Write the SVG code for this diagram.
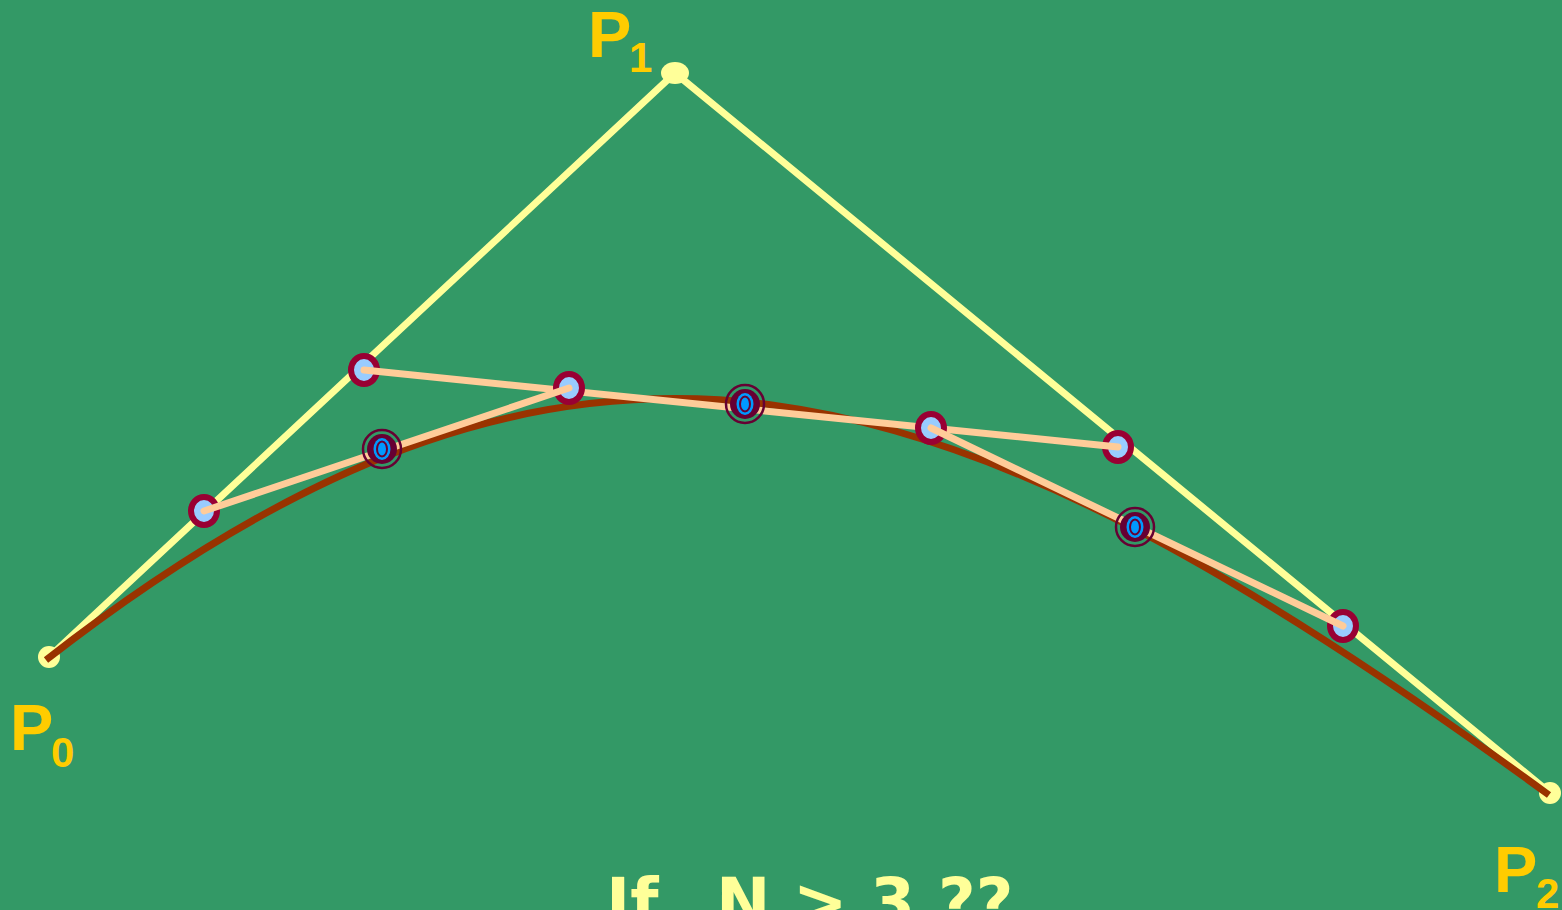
<svg xmlns="http://www.w3.org/2000/svg" width="1562" height="910" viewBox="0 0 1562 910">
  <style>
    .ctrl { stroke: #FFFF99; stroke-width: 7; fill: none; stroke-linecap: round; }
    .mid { stroke: #FFCC99; stroke-width: 7; fill: none; stroke-linecap: round; }
    .curve { stroke: #993300; stroke-width: 7; fill: none; }
    .pt { fill: #99CCFF; stroke: #990033; stroke-width: 6; }
    .end { fill: #FFFF99; }
    .lbl { font-family: "Liberation Sans", Arial, sans-serif; font-weight: bold; fill: #FFCC00; }
    .big { font-size: 65px; }
    .sub { font-size: 42px; }
    .title { font-family: "DejaVu Sans", Verdana, sans-serif; font-weight: bold; font-size: 65px; fill: #FFFF99; white-space: pre; }
  </style>
  <defs>
    <g id="onCurve">
      <circle r="19" fill="none" stroke="#660033" stroke-width="2.5"/>
      <circle r="15" fill="#660033"/>
      <ellipse rx="8.5" ry="11" fill="#0099FF"/>
      <ellipse rx="5" ry="7.5" fill="#0099FF" stroke="#660033" stroke-width="2"/>
    </g>
  </defs>
  <rect width="1562" height="910" fill="#339966"/>

  <g id="connectors">
    <polyline class="ctrl" points="48,658 675,73 1550,793"/>
  </g>

  <g id="endpoints">
    <circle id="p0-dot" class="end" cx="49" cy="657" r="11"/>
    <ellipse id="p1-dot" class="end" cx="675" cy="73" rx="14" ry="11"/>
    <circle id="p2-dot" class="end" cx="1550" cy="793" r="11"/>
  </g>

  <g id="curve-group">
    <path class="curve" d="M46,660 C586,239 949,357 1549,795"/>
  </g>

  <g id="level1-outer">
    <ellipse class="pt" cx="364" cy="370" rx="13" ry="14"/>
    <ellipse class="pt" cx="1118" cy="447" rx="13" ry="14"/>
    <ellipse class="pt" cx="204" cy="511" rx="13" ry="14"/>
    <ellipse class="pt" cx="1343" cy="626" rx="13" ry="14"/>
  </g>

  <g id="midline">
    <line class="mid" x1="364" y1="370" x2="1118" y2="447"/>
  </g>

  <g id="level2">
    <ellipse class="pt" cx="569" cy="388" rx="13" ry="14"/>
    <ellipse class="pt" cx="931" cy="428" rx="13" ry="14"/>
  </g>

  <g id="sublines">
    <line class="mid" x1="204" y1="511" x2="569" y2="388"/>
    <line class="mid" x1="931" y1="428" x2="1343" y2="626"/>
  </g>

  <g id="curve-points">
    <use href="#onCurve" x="382" y="449"/>
    <use href="#onCurve" x="745" y="404"/>
    <use href="#onCurve" x="1135" y="527"/>
  </g>

  <g id="labels">
    <text class="lbl big" x="588" y="57">P</text><text class="lbl sub" x="629" y="72">1</text>
    <text class="lbl big" x="10" y="750">P</text><text class="lbl sub" x="51" y="767">0</text>
    <text class="lbl big" x="1494" y="892">P</text><text class="lbl sub" x="1536" y="908">2</text>
  </g>

  <text class="title" y="925" xml:space="preserve"><tspan x="606">If</tspan><tspan x="716">N &gt; 3 ??</tspan></text>
</svg>
